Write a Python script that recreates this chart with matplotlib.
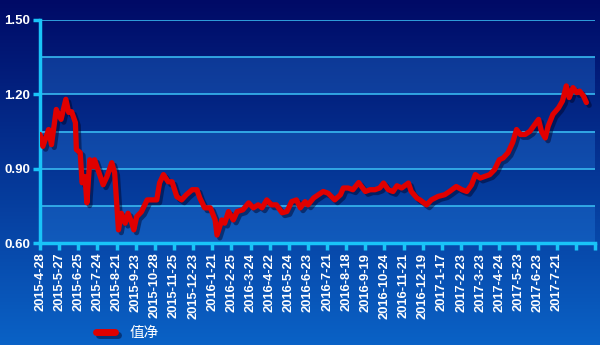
import numpy as np
import matplotlib
matplotlib.use("Agg")
import matplotlib.pyplot as plt
import matplotlib.patheffects as pe

# trading-day index (from 2015-4-28) and net value
days = [0, 3, 9, 12, 17, 22, 27, 30, 33, 37, 38, 42, 44, 47, 49, 52, 56, 57,
        63, 66, 70, 75, 78, 82, 85, 89, 92, 96, 98, 101, 106, 112, 117, 122,
        125, 129, 134, 138, 143, 148, 153, 159, 164, 167, 172, 178, 183, 185,
        190, 193, 197, 202, 206, 212, 218, 223, 228, 232, 237, 242, 247, 253,
        258, 263, 268, 272, 277, 280, 286, 291, 296, 301, 308, 314, 317, 322,
        327, 333, 336, 340, 345, 350, 355, 359, 364, 369, 373, 378, 385, 388,
        394, 397, 404, 409, 416, 423, 428, 435, 441, 446, 451, 455, 460, 465,
        470, 475, 480, 484, 489, 494, 498, 502, 507, 512, 517, 521, 524, 528,
        531, 536, 542, 546, 550, 553, 557, 561, 564, 568, 571]
nav = [1.038, 0.99, 1.058, 0.997, 1.139, 1.099, 1.18, 1.127, 1.13, 1.086,
       0.977, 0.965, 0.843, 0.868, 0.762, 0.936, 0.908, 0.936, 0.868, 0.835,
       0.868, 0.924, 0.884, 0.653, 0.72, 0.68, 0.72, 0.68, 0.653, 0.706,
       0.726, 0.774, 0.774, 0.774, 0.843, 0.876, 0.847, 0.847, 0.787, 0.774,
       0.795, 0.815, 0.815, 0.782, 0.742, 0.742, 0.693, 0.632, 0.693, 0.68,
       0.727, 0.693, 0.727, 0.734, 0.762, 0.742, 0.754, 0.742, 0.774, 0.754,
       0.754, 0.722, 0.727, 0.767, 0.774, 0.742, 0.767, 0.754, 0.782, 0.795,
       0.808, 0.801, 0.774, 0.795, 0.822, 0.822, 0.815, 0.844, 0.828, 0.808,
       0.815, 0.815, 0.822, 0.842, 0.815, 0.808, 0.831, 0.822, 0.842, 0.808,
       0.781, 0.774, 0.754, 0.774, 0.788, 0.795, 0.808, 0.828, 0.815, 0.808,
       0.835, 0.876, 0.862, 0.869, 0.876, 0.896, 0.936, 0.943, 0.964, 1.006,
       1.058, 1.038, 1.038, 1.051, 1.078, 1.099, 1.051, 1.024, 1.071, 1.119,
       1.146, 1.173, 1.234, 1.187, 1.227, 1.207, 1.213, 1.193, 1.167]

tick_labels = ["2015-4-28", "2015-5-27", "2015-6-25", "2015-7-24", "2015-8-21",
               "2015-9-23", "2015-10-28", "2015-11-25", "2015-12-23", "2016-1-21",
               "2016-2-25", "2016-3-24", "2016-4-22", "2016-5-24", "2016-6-23",
               "2016-7-21", "2016-8-18", "2016-9-19", "2016-10-24", "2016-11-21",
               "2016-12-19", "2017-1-17", "2017-2-23", "2017-3-23", "2017-4-24",
               "2017-5-23", "2017-6-23", "2017-7-21", "", ""]
y_ticks = [0.60, 0.90, 1.20, 1.50]
grid_levels = [0.60, 0.75, 0.90, 1.05, 1.20, 1.35, 1.50]

fig = plt.figure(figsize=(6, 3.45), dpi=100)

# background gradient
bg = fig.add_axes([0, 0, 1, 1], zorder=-10)
grad = np.linspace(0, 1, 256).reshape(-1, 1)
top = np.array([0, 10, 102]) / 255
bot = np.array([10, 98, 198]) / 255
img = top + (bot - top) * grad[:, :, None]
bg.imshow(img, aspect="auto", extent=[0, 1, 0, 1])
bg.axis("off")

ax = fig.add_axes([40 / 600, 1 - 243 / 345, 555 / 600, 223 / 345])
ax.patch.set_alpha(0)

# lighter alternating bands
for lo in [0.60, 0.90, 1.20]:
    ax.axhspan(lo, lo + 0.15, color="#2a86e6", alpha=0.3, lw=0, zorder=0)
for g in grid_levels:
    ax.axhline(g, color="#38b8f0", lw=1.2, zorder=1)

ax.plot(days, nav, color="#e00000", lw=3.8, solid_joinstyle="round",
        solid_capstyle="round", zorder=3, label="值净",
        path_effects=[pe.SimpleLineShadow(offset=(2, -2), shadow_color="#000020", alpha=0.45),
                      pe.Normal()])

ax.set_xlim(0, 580)
ax.set_ylim(0.60, 1.50)
ax.set_xticks(np.arange(0, 600, 20))
ax.set_xticklabels(tick_labels, rotation=90, color="white", fontsize=9.3,
                   fontweight="bold", family="Liberation Sans")
ax.set_yticks(y_ticks)
ax.set_yticklabels(["%.2f" % v for v in y_ticks], color="white", fontsize=9.5,
                   fontweight="bold", family="Liberation Sans")
ax.tick_params(axis="both", colors="#19c4f8", length=5, width=2.5, pad=2)
ax.tick_params(axis="x", labelcolor="white")
ax.tick_params(axis="y", labelcolor="white")

for s in ["top", "right"]:
    ax.spines[s].set_visible(False)
for s in ["left", "bottom"]:
    ax.spines[s].set_color("#19c4f8")
    ax.spines[s].set_linewidth(2.5)

leg = fig.legend(loc="center left", bbox_to_anchor=(83 / 600, 1 - 333 / 345),
                 frameon=False, handlelength=1.3, handletextpad=1.0,
                 prop={"family": ["Noto Sans CJK SC", "DejaVu Sans"], "size": 10.5})
for t in leg.get_texts():
    t.set_color("white")
for h in leg.legend_handles:
    h.set_linewidth(5)

fig.savefig("out.png", dpi=100)
